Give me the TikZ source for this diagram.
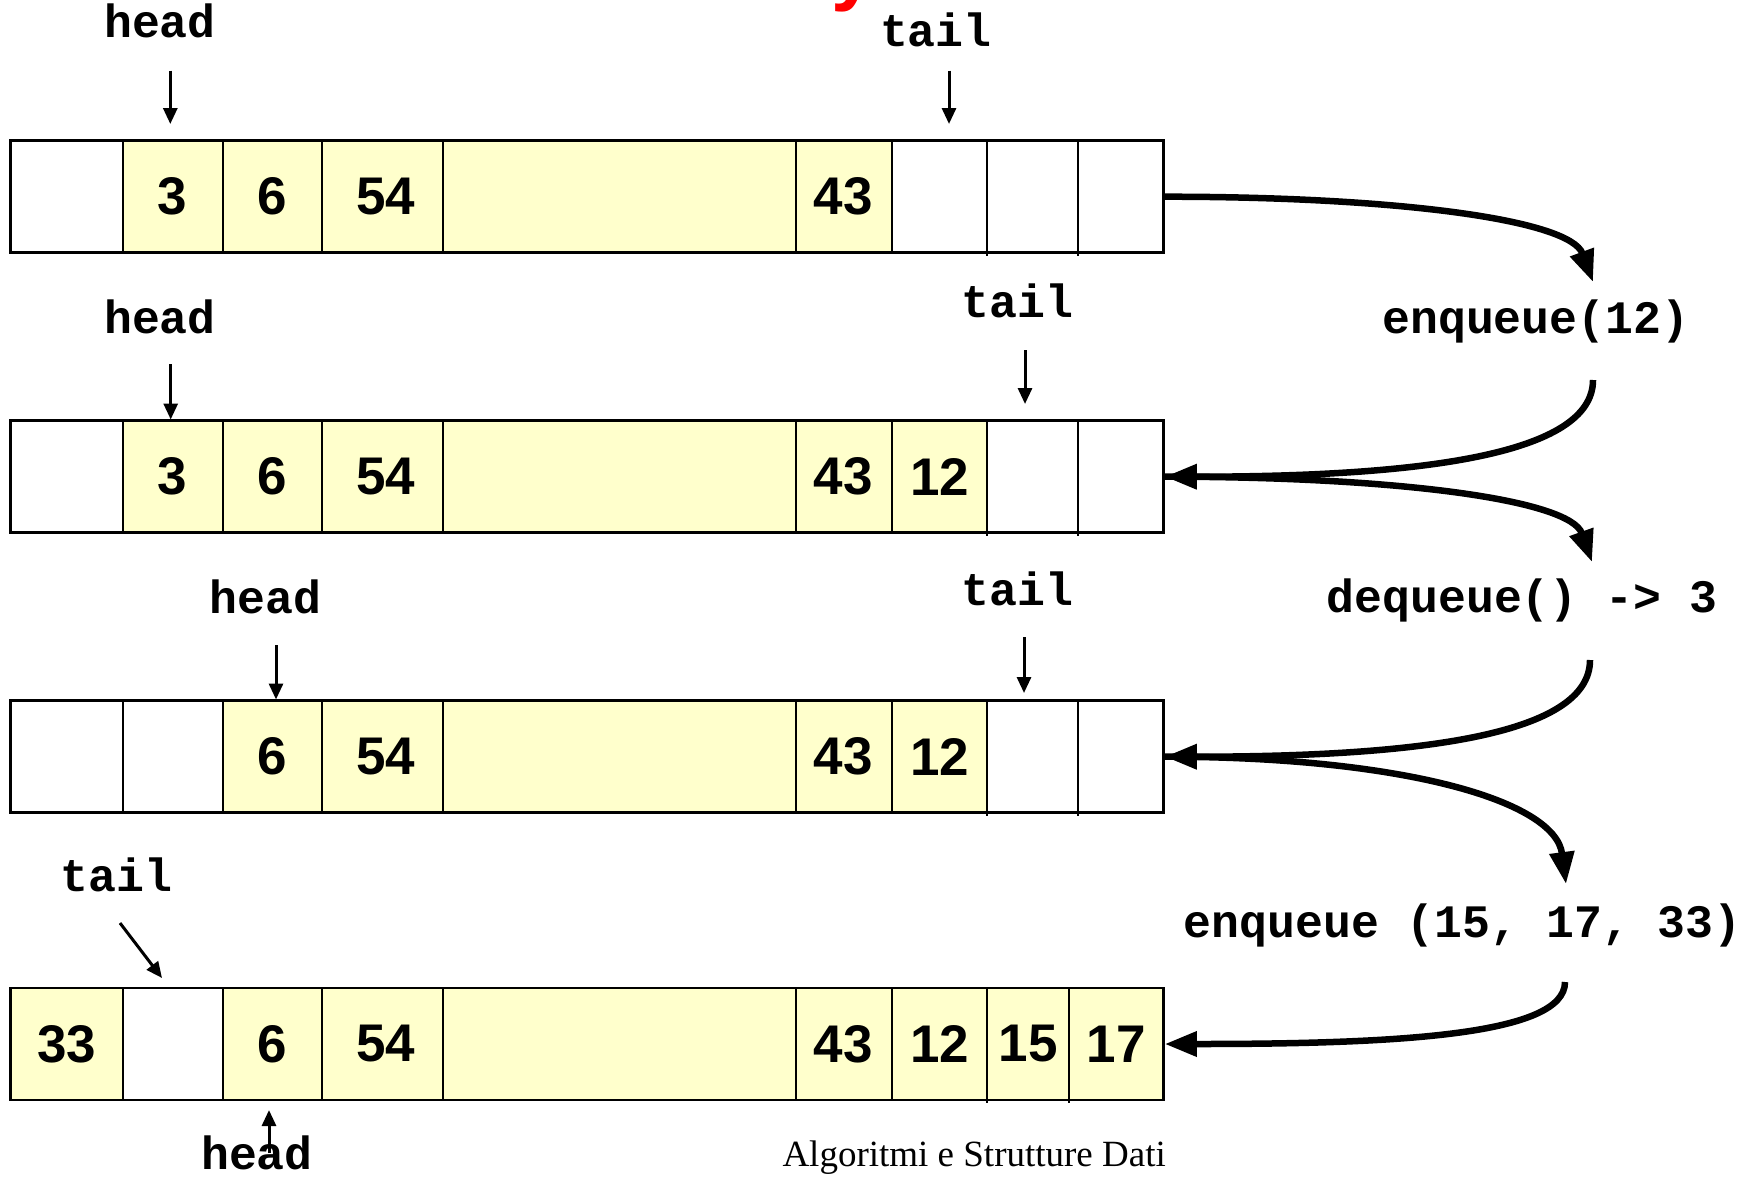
\documentclass[tikz,border=0pt]{standalone}
\usepackage{fontspec}
\setmainfont{Liberation Serif}
\newfontfamily\numfont{Liberation Sans}
\newfontfamily\codefont{Liberation Mono}
\usetikzlibrary{arrows.meta}
\definecolor{qyellow}{HTML}{FFFFCC}
\tikzset{
  yel/.style={fill=qyellow},
  div/.style={line width=1.7pt},
  rowbox/.style={draw, line width=2.6pt, minimum width=1152.8pt, minimum height=112pt, inner sep=0pt},
  num/.style={font=\numfont\bfseries\fontsize{53}{60}\selectfont, inner sep=0pt, anchor=center},
  ptr/.style={font=\codefont\bfseries\fontsize{46.5}{50}\selectfont, inner sep=0pt, anchor=base},
  ptrarrow/.style={line width=3pt, -{Triangle[length=16pt,width=14pt]}},
  oparrow/.style={line width=6.5pt, -{Triangle[length=32pt,width=24pt]}},
  foot/.style={font=\fontsize{37}{40}\selectfont, inner sep=0pt, anchor=base east}
}
\begin{document}
\begin{tikzpicture}[x=1pt,y=-1pt]
\useasboundingbox (0,0) rectangle (1755,1176);
% red fragment of the title
\node[font=\numfont\bfseries\fontsize{80}{80}\selectfont, text=red, inner sep=0pt, anchor=base west] (title) at (831,-5) {y};
% ---- yellow fills
\fill[yel] (123,140.7) rectangle (892,252.7);
\fill[yel] (123,420.7) rectangle (987,532.7);
\fill[yel] (223,700.7) rectangle (987,812.7);
\fill[yel] (10.7,988) rectangle (123,1100);
\fill[yel] (223,988) rectangle (1163.5,1100);
% ---- dividers
\foreach \yt in {140.7,420.7,700.7}{
  \foreach \xx in {123,223,322,443,796,892}{
    \draw[div] (\xx,\yt) -- (\xx,\yt+112);
  }
  \draw[line width=1.5pt] (987,\yt) -- (987,\yt+115);
  \draw[line width=1.5pt] (1078,\yt) -- (1078,\yt+115);
}
\foreach \xx in {123,223,322,443,796,892}{
  \draw[div] (\xx,988) -- (\xx,1100);
}
\draw[line width=1.5pt] (987,988) -- (987,1103);
\draw[line width=1.5pt] (1069,988) -- (1069,1103);
% ---- row boxes
\node[rowbox] (row1) at (587.1,196.7) {};
\node[rowbox] (row2) at (587.1,476.7) {};
\node[rowbox] (row3) at (587.1,756.7) {};
\node[rowbox] (row4) at (587.1,1044) {};
% ---- numbers
\node[num] (a3)  at (172.5,196.7) {3};
\node[num] (a6)  at (272.5,196.7) {6};
\node[num] (a54) at (386,196.7) {54};
\node[num] (a43) at (843,196.7) {43};
\node[num] (b3)  at (172.5,476.7) {3};
\node[num] (b6)  at (272.5,476.7) {6};
\node[num] (b54) at (386,476.7) {54};
\node[num] (b43) at (843,476.7) {43};
\node[num] (b12) at (939.5,476.7) {12};
\node[num] (c6)  at (272.5,756.7) {6};
\node[num] (c54) at (386,756.7) {54};
\node[num] (c43) at (843,756.7) {43};
\node[num] (c12) at (939.5,756.7) {12};
\node[num] (d33) at (66.6,1044) {33};
\node[num] (d6)  at (272.5,1044) {6};
\node[num] (d54) at (386,1044) {54};
\node[num] (d43) at (843,1044) {43};
\node[num] (d12) at (939.5,1044) {12};
\node[num] (d15) at (1028,1044) {15};
\node[num] (d17) at (1116,1044) {17};
% ---- pointer labels
\node[ptr] (head1) at (160,37.6) {head};
\node[ptr] (tail1) at (935.8,46.7) {tail};
\node[ptr] (head2) at (160,333) {head};
\node[ptr] (tail2) at (1017.5,317) {tail};
\node[ptr] (head3) at (265.5,613) {head};
\node[ptr] (tail3) at (1017.5,605) {tail};
\node[ptr] (tail4) at (116.7,891.8) {tail};
\node[ptr] (head4) at (257,1169) {head};
% ---- pointer arrows
\coordinate (h1s) at (170.3,70.5);  \coordinate (h1e) at (170.3,124);
\coordinate (t1s) at (949,70.5);    \coordinate (t1e) at (949,124);
\coordinate (h2s) at (170.7,364);   \coordinate (h2e) at (170.7,419.5);
\coordinate (t2s) at (1025,350);    \coordinate (t2e) at (1025,404);
\coordinate (h3s) at (276,645);     \coordinate (h3e) at (276,699.5);
\coordinate (t3s) at (1024,637);    \coordinate (t3e) at (1024,693);
\coordinate (t4s) at (120,923);     \coordinate (t4e) at (162,978);
\coordinate (h4s) at (269,1153);    \coordinate (h4e) at (269,1110);
\foreach \p in {h1,t1,h2,t2,h3,t3,t4,h4}{
  \draw[ptrarrow] (\p s) -- (\p e);
}
% ---- operation labels
\node[ptr] (op1) at (1535.8,333) {enqueue(12)};
\node[ptr] (op2) at (1522,612) {dequeue() -> 3};
\node[ptr] (op3) at (1462.7,937) {enqueue (15, 17, 33)};
% ---- operation arrows
\coordinate (c1e) at (1593,282);
\coordinate (c2s) at (1593,380);
\coordinate (c3e) at (1592,562);
\coordinate (c4s) at (1590,660);
\coordinate (c5e) at (1566,884);
\coordinate (c6s) at (1565,982);
\draw[oparrow] (row1.east) .. controls (1400,196.7) and (1570,220) .. (c1e);
\draw[oparrow] (c2s) .. controls (1593,455) and (1420,476.7) .. (row2.east);
\draw[oparrow] (row2.east) .. controls (1400,476.7) and (1570,500) .. (c3e);
\draw[oparrow] (c4s) .. controls (1590,735) and (1420,756.7) .. (row3.east);
\draw[oparrow] (row3.east) .. controls (1400,756.7) and (1555,800) .. (c5e);
\draw[oparrow] (c6s) .. controls (1565,1035) and (1400,1044) .. (row4.east);
% ---- footer
\node[foot] (footer) at (1166,1166) {Algoritmi e Strutture Dati};
\end{tikzpicture}
\end{document}
